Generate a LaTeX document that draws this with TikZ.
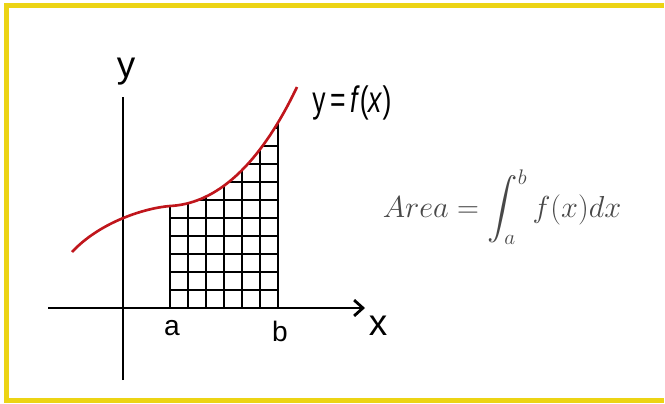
\documentclass[tikz,border=0pt]{standalone}
\usepackage{amsmath}
\usepackage[no-math]{fontspec}
\newfontfamily\axisfont{Liberation Sans}
\usetikzlibrary{arrows.meta}
\definecolor{framegold}{RGB}{236, 212, 20}
\definecolor{curvered}{RGB}{192, 22, 28}
\definecolor{formgray}{RGB}{72, 72, 72}

\begin{document}
\begin{tikzpicture}[x=0.02cm, y=-0.02cm,
        axis/.style={line width=1.6pt, black},
        cell/.style={line width=1pt, black},
        fcurve/.style={line width=1.5pt, curvered},
        axlbl/.style={font=\axisfont\fontsize{21}{24}\selectfont, inner sep=0pt, anchor=base},
        ablbl/.style={font=\axisfont\fontsize{16}{19}\selectfont, inner sep=0pt, anchor=base},
        fxlbl/.style={font=\axisfont\fontsize{21}{24}\selectfont, inner sep=0pt, xscale=0.72}
      ]
        \useasboundingbox (0,0) rectangle (665,403);
        % frame, open on the right
        \draw[framegold, line width=2.6pt] (664,5.5) -- (6.5,5.5) -- (6.5,400.5) -- (664,400.5);

        \coordinate (ytop) at (123,97);
        \coordinate (ybot) at (123,380);
        \coordinate (xleft) at (48,308);
        \coordinate (xright) at (365,308);

        % cells under the curve
        \begin{scope}
          \clip (72,252) .. controls (100,222) and (145,208) .. (170,206)
            .. controls (210,204) and (255,175) .. (297,87) -- (297,308) -- (72,308) -- cycle;
          \foreach \i in {0,...,6} { \draw[cell] (170+18*\i,308) -- (170+18*\i,80); }
          \foreach \j in {0,...,12} { \draw[cell] (170,308-18*\j) -- (278,308-18*\j); }
        \end{scope}

        \draw[axis] (ybot) -- (ytop);
        \draw[axis, -{Straight Barb[length=5pt, width=9pt]}] (xleft) -- (xright);
        \draw[fcurve] (72,252) .. controls (100,222) and (145,208) .. (170,206)
          .. controls (210,204) and (255,175) .. (297,87);

        \node[axlbl] (ylab) at (126,77) {y};
        \node[axlbl] (xlab) at (378,335) {x};
        \node[ablbl] (alab) at (172,335) {a};
        \node[ablbl] (blab) at (280,341) {b};
        \node[fxlbl] (fxlab) at (352,103) {y\,=\,\textit{f}(\textit{x})};
        \node[text=formgray, font=\fontsize{17.5}{21}\selectfont] (area) at (502,207)
          {$\displaystyle Area=\int_a^b f(x)dx$};
      \end{tikzpicture}
\end{document}
